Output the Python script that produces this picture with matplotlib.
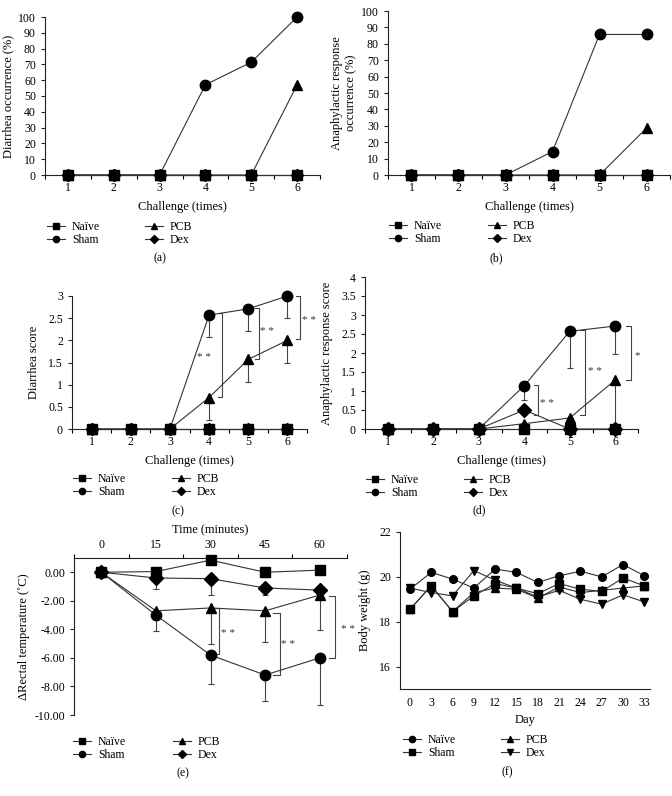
import matplotlib
matplotlib.use("Agg")
import matplotlib.pyplot as plt
from matplotlib.lines import Line2D
import numpy as np

plt.rcParams['font.family'] = ['Liberation Serif', 'DejaVu Serif']
plt.rcParams['axes.unicode_minus'] = False

W, H = 672, 796

# ---- data ----
challenge = [1, 2, 3, 4, 5, 6]

a_naive = [0, 0, 0, 0, 0, 0]
a_sham = [0, 0, 0, 57.1, 71.4, 100]
a_pcb = [0, 0, 0, 0, 0, 57.1]
a_dex = [0, 0, 0, 0, 0, 0]

b_naive = [0, 0, 0, 0, 0, 0]
b_sham = [0, 0, 0, 14.3, 85.7, 85.7]
b_pcb = [0, 0, 0, 0, 0, 28.6]
b_dex = [0, 0, 0, 0, 0, 0]

c_naive = [0, 0, 0, 0, 0, 0]
c_sham = [0, 0, 0, 2.57, 2.71, 3.0]
c_sham_err = [0, 0, 0, 0.5, 0.5, 0.5]
c_pcb = [0, 0, 0, 0.71, 1.57, 2.0]
c_pcb_err = [0, 0, 0, 0.5, 0.5, 0.5]
c_dex = [0, 0, 0, 0, 0, 0]

d_naive = [0, 0, 0, 0, 0, 0]
d_sham = [0, 0, 0, 1.14, 2.57, 2.71]
d_sham_err = [0, 0, 0, 0.38, 0.97, 0.74]
d_pcb = [0, 0, 0, 0.14, 0.29, 1.29]
d_pcb_err = [0, 0, 0, 0, 0, 1.29]
d_dex = [0, 0, 0, 0.5, 0, 0]

minutes = [0, 15, 30, 45, 60]
e_naive = [0, 0.05, 0.85, 0.0, 0.15]
e_naive_err = [0, 0.1, 0.35, 0.3, 0.1]
e_sham = [0, -3.0, -5.8, -7.2, -6.0]
e_sham_err = [0, 1.1, 2.05, 1.8, 3.3]
e_pcb = [0, -2.7, -2.5, -2.7, -1.6]
e_pcb_err = [0, 0.3, 2.5, 2.2, 2.45]
e_dex = [0, -0.4, -0.45, -1.1, -1.25]
e_dex_err = [0, 0.75, 1.15, 0.5, 0.6]

days = [0, 3, 6, 9, 12, 15, 18, 21, 24, 27, 30, 33]
f_naive = [19.45, 20.2, 19.9, 19.5, 20.35, 20.2, 19.75, 20.05, 20.25, 20.0, 20.55, 20.05]
f_sham = [18.55, 19.6, 18.45, 19.15, 19.7, 19.5, 19.25, 19.7, 19.45, 19.35, 19.95, 19.6]
f_pcb = [18.55, 19.6, 18.45, 19.3, 19.5, 19.45, 19.05, 19.55, 19.3, 19.4, 19.5, 19.6]
f_dex = [19.5, 19.3, 19.15, 20.28, 19.85, 19.5, 19.1, 19.4, 19.0, 18.78, 19.2, 18.88]

groups = ['Naïve', 'Sham', 'PCB', 'Dex']

LINE = '#333333'
TICK_FS = 8.5
LAB_FS = 9
LEG_FS = 8.5

fig = plt.figure(figsize=(W / 100, H / 100), dpi=100)


def px_axes(left, top, right, bottom):
    return fig.add_axes([left / W, 1 - bottom / H, (right - left) / W, (bottom - top) / H])


def style(ax):
    for s in ['top', 'right']:
        ax.spines[s].set_visible(False)
    for s in ax.spines.values():
        s.set_linewidth(0.8)
        s.set_color('#222222')
    ax.tick_params(labelsize=TICK_FS, width=0.8, length=3, direction='out', color='#222222')


def challenge_axes(ax):
    style(ax)
    ax.set_xlim(0.5, 6.5)
    ax.set_xticks(challenge)
    ax.set_xticks(np.arange(0.5, 7.0, 1.0), minor=True)
    ax.tick_params(axis='x', which='major', length=0, pad=5)
    ax.tick_params(axis='x', which='minor', length=3, width=0.8, direction='out')
    ax.set_xlabel('Challenge (times)', fontsize=LAB_FS, labelpad=5)


def series(ax, x, y, marker, ms, err=None, z=3):
    if err is not None:
        ax.errorbar(x, y, yerr=[err, [0] * len(err)], fmt='none', ecolor='#444444',
                    elinewidth=0.8, capsize=2.5, capthick=0.8, zorder=z - 1, clip_on=False)
    ax.plot(x, y, color=LINE, lw=0.8, marker=marker, ms=ms, mfc='black', mec='black',
            zorder=z, clip_on=False)


def bracket(ax, x, y0, y1, w, text, tx, ty):
    ax.plot([x - w, x, x, x - w], [y0, y0, y1, y1], color='#444444', lw=0.8, clip_on=False, zorder=1)
    ax.text(tx, ty, text, fontsize=8, ha='center', va='center', color='#333333', clip_on=False)


def legend(markers, x1, x2, ytop, caption_xy):
    handles = [Line2D([0], [0], color=LINE, lw=0.8, marker=m, ms=4.5, mfc='black', mec='black')
               for m in markers]
    for col, xs in ((0, x1), (1, x2)):
        hs = handles[2 * col:2 * col + 2]
        ls = groups[2 * col:2 * col + 2]
        fig.legend(hs, ls, loc='upper left', bbox_to_anchor=(xs / W, 1 - ytop / H),
                   frameon=False, fontsize=LEG_FS, handlelength=1.5, handletextpad=0.6,
                   labelspacing=0.12, borderpad=0, borderaxespad=0)
    fig.text(caption_xy[0] / W, 1 - caption_xy[1] / H, caption_xy[2], fontsize=LEG_FS,
             ha='center', va='center')


mk4 = ['s', 'o', '^', 'D']
ms4 = [6.5, 7.5, 7, 6.5]

# ---- (a) ----
ax = px_axes(45, 17, 320, 175)
challenge_axes(ax)
for y, m, s in zip([a_naive, a_sham, a_pcb, a_dex], mk4, ms4):
    series(ax, challenge, y, m, s)
ax.set_ylim(0, 100)
ax.set_yticks(range(0, 101, 10))
ax.set_ylabel('Diarrhea occurrence (%)', fontsize=LAB_FS, labelpad=3)
legend(mk4, 47, 145, 221, (160, 258, '(a)'))

# ---- (b) ----
ax = px_axes(388, 11, 670, 175)
challenge_axes(ax)
for y, m, s in zip([b_naive, b_sham, b_pcb, b_dex], mk4, ms4):
    series(ax, challenge, y, m, s)
ax.set_ylim(0, 100)
ax.set_yticks(range(0, 101, 10))
ax.set_ylabel('Anaphylactic response\noccurrence (%)', fontsize=LAB_FS, labelpad=3)
legend(mk4, 389, 488, 220, (496, 258, '(b)'))

# ---- (c) ----
ax = px_axes(72, 296, 307, 429)
challenge_axes(ax)
series(ax, challenge, c_naive, 's', 6.5)
series(ax, challenge, c_sham, 'o', 7.5, c_sham_err)
series(ax, challenge, c_pcb, '^', 7, c_pcb_err)
series(ax, challenge, c_dex, 'D', 6.5)
ax.set_ylim(0, 3)
ax.set_yticks([0, 0.5, 1, 1.5, 2, 2.5, 3])
ax.set_yticklabels(['0', '0.5', '1', '1.5', '2', '2.5', '3'])
ax.set_ylabel('Diarrhea score', fontsize=LAB_FS, labelpad=6)
bracket(ax, 4.32, 2.61, 0.73, 0.1, '* *', 3.86, 1.62)
bracket(ax, 5.28, 2.72, 1.57, 0.1, '* *', 5.48, 2.2)
bracket(ax, 6.33, 3.0, 2.03, 0.1, '* *', 6.54, 2.45)
legend(mk4, 73, 172, 473, (178, 511, '(c)'))

# ---- (d) ----
ax = px_axes(365, 277, 638, 429)
challenge_axes(ax)
series(ax, challenge, d_naive, 's', 6.5)
series(ax, challenge, d_sham, 'o', 7.5, d_sham_err)
series(ax, challenge, d_pcb, '^', 7, d_pcb_err)
series(ax, challenge, d_dex, 'D', 7)
ax.set_ylim(0, 4)
ax.set_yticks([0, 0.5, 1, 1.5, 2, 2.5, 3, 3.5, 4])
ax.set_yticklabels(['0', '0.5', '1', '1.5', '2', '2.5', '3', '3.5', '4'])
ax.set_ylabel('Anaphylactic response score', fontsize=LAB_FS, labelpad=6)
bracket(ax, 4.31, 1.16, 0.38, 0.1, '* *', 4.5, 0.66)
bracket(ax, 5.33, 2.6, 0.38, 0.1, '* *', 5.55, 1.5)
bracket(ax, 6.34, 2.71, 1.3, 0.1, '*', 6.48, 1.92)
legend(mk4, 366, 464, 474, (479, 510, '(d)'))

# ---- (e) ----
ax = px_axes(74, 558, 347, 715)
for s in ['bottom', 'right']:
    ax.spines[s].set_visible(False)
for s in ax.spines.values():
    s.set_linewidth(0.8)
    s.set_color('#222222')
ax.tick_params(labelsize=TICK_FS, width=0.8, length=3, direction='out', color='#222222')
ax.xaxis.tick_top()
ax.xaxis.set_label_position('top')
ax.set_xlim(-7.5, 67.5)
ax.set_xticks(minutes)
ax.set_xticks(np.arange(-7.5, 70, 15), minor=True)
ax.tick_params(axis='x', which='major', length=0, pad=5)
ax.tick_params(axis='x', which='minor', length=3, width=0.8, direction='out', top=True, bottom=False)
ax.set_xlabel('Time (minutes)', fontsize=LAB_FS, labelpad=4)
ax.set_ylim(-10, 1)
ax.set_yticks(range(-10, 1, 2))
ax.yaxis.set_major_formatter(matplotlib.ticker.FormatStrFormatter('%.2f'))
ax.set_ylabel('ΔRectal temperature (˚C)', fontsize=LAB_FS, labelpad=3)
series(ax, minutes, e_naive, 's', 6.5, e_naive_err)
series(ax, minutes, e_sham, 'o', 7.5, e_sham_err)
series(ax, minutes, e_pcb, '^', 7, e_pcb_err)
series(ax, minutes, e_dex, 'D', 7, e_dex_err)
bracket(ax, 32.2, -2.5, -5.74, 1.8, '* *', 34.8, -4.26)
bracket(ax, 49.0, -2.86, -7.2, 1.8, '* *', 51.4, -5.08)
bracket(ax, 64.3, -1.64, -6.0, 1.8, '* *', 67.8, -4.03)
legend(mk4, 73, 173, 736, (183, 773, '(e)'))

# ---- (f) ----
ax = px_axes(400, 532, 650, 689)
style(ax)
ax.set_xlim(-1.4, 33.8)
ax.set_xticks(days)
ax.tick_params(axis='x', length=0, pad=6)
ax.set_ylim(15, 22)
ax.set_yticks([16, 18, 20, 22])
ax.set_xlabel('Day', fontsize=LAB_FS, labelpad=3)
ax.set_ylabel('Body weight (g)', fontsize=LAB_FS, labelpad=6)
series(ax, days, f_naive, 'o', 5.5)
series(ax, days, f_pcb, '^', 5.5)
series(ax, days, f_dex, 'v', 5.5)
series(ax, days, f_sham, 's', 5.5)
legend(['o', 's', '^', 'v'], 403, 501, 734, (507, 772, '(f)'))

fig.savefig('out.png', dpi=100)
